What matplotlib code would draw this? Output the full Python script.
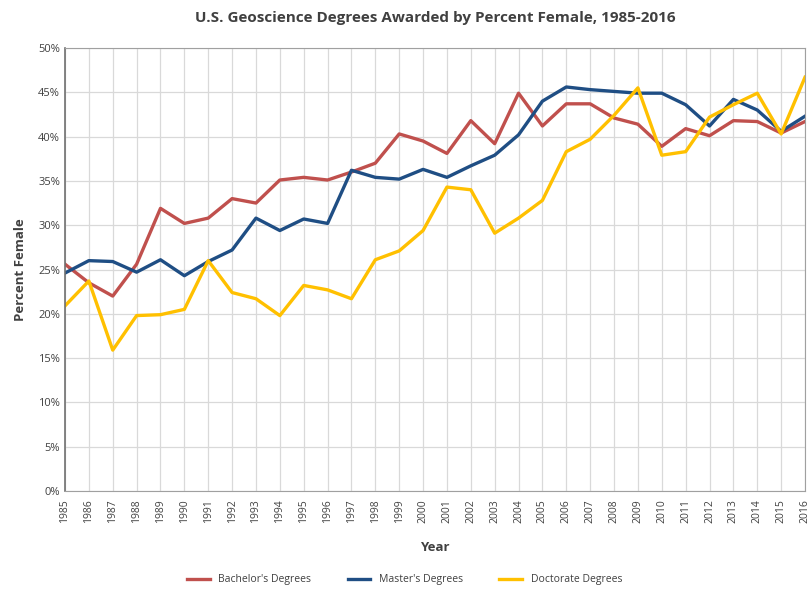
import matplotlib.pyplot as plt
from matplotlib.ticker import PercentFormatter

years = list(range(1985, 2017))

bachelors = [25.6, 23.5, 22.0, 25.6, 31.9, 30.2, 30.8, 33.0, 32.5, 35.1,
             35.4, 35.1, 36.0, 37.0, 40.3, 39.5, 38.1, 41.8, 39.2, 44.9,
             41.2, 43.7, 43.7, 42.1, 41.4, 38.9, 40.9, 40.1, 41.8, 41.7,
             40.4, 41.7]
masters = [24.6, 26.0, 25.9, 24.7, 26.1, 24.3, 25.9, 27.2, 30.8, 29.4,
           30.7, 30.2, 36.2, 35.4, 35.2, 36.3, 35.4, 36.7, 37.9, 40.2,
           44.0, 45.6, 45.3, 45.1, 44.9, 44.9, 43.6, 41.2, 44.2, 43.0,
           40.6, 42.3]
doctorates = [20.9, 23.7, 15.9, 19.8, 19.9, 20.5, 26.0, 22.4, 21.7, 19.8,
              23.2, 22.7, 21.7, 26.1, 27.1, 29.4, 34.3, 34.0, 29.1, 30.8,
              32.8, 38.3, 39.7, 42.4, 45.5, 37.9, 38.3, 42.2, 43.6, 44.9,
              40.3, 46.7]

plt.rcParams['font.family'] = ['Open Sans', 'DejaVu Sans']

fig = plt.figure(figsize=(8.09, 5.9), dpi=100)
ax = fig.add_axes([65 / 809, 1 - 491 / 590, 740 / 809, 443 / 590])

ax.plot(years, bachelors, color="#C0504D", lw=2.4, label="Bachelor's Degrees")
ax.plot(years, masters, color="#1F4E84", lw=2.4, label="Master's Degrees")
ax.plot(years, doctorates, color="#FFC000", lw=2.4, label="Doctorate Degrees")

ax.set_xlim(1985, 2016)
ax.set_ylim(0, 50)
ax.set_xticks(years)
ax.set_xticklabels([str(y) for y in years], rotation=90, fontsize=7.5, color="#404040")
ax.set_yticks(range(0, 51, 5))
ax.yaxis.set_major_formatter(PercentFormatter(decimals=0))
ax.tick_params(axis="y", labelsize=8, colors="#404040", length=0)
ax.tick_params(axis="x", length=0, pad=6)
ax.grid(True, color="#D9D9D9", lw=0.9)
ax.set_axisbelow(True)
for s in ax.spines.values():
    s.set_color("#A0A0A0")
ax.spines["left"].set_color("#707070")
ax.spines["left"].set_linewidth(1.2)

ax.set_title("U.S. Geoscience Degrees Awarded by Percent Female, 1985-2016",
             fontsize=11, fontweight="bold", color="#404040", pad=19)
ax.set_xlabel("Year", fontsize=9.5, fontweight="bold", color="#404040", labelpad=13)
ax.set_ylabel("Percent Female", fontsize=9.5, fontweight="bold", color="#404040", labelpad=8)

fig.legend(loc="lower center", bbox_to_anchor=(0.5, -0.008), ncol=3, frameon=False,
           fontsize=7.5, handlelength=2.2, columnspacing=3.5, labelcolor="#404040")

fig.savefig("out.png", dpi=100)
